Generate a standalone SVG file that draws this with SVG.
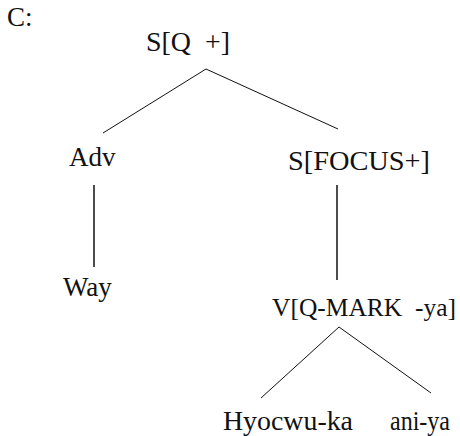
<svg xmlns="http://www.w3.org/2000/svg" width="460" height="436" viewBox="0 0 460 436">
<style>
text{font-family:"Liberation Serif","DejaVu Serif",serif;font-size:27px;fill:#111;white-space:pre}
.e line{stroke:#111;stroke-width:1}
.e line.v{stroke-width:1.5}
</style>
<rect width="460" height="436" fill="#fff"/>
<text x="7" y="26">C:</text>
<g class="e" id="connectors">
<line x1="206" y1="69" x2="103" y2="133"/>
<line x1="206" y1="69" x2="338" y2="129"/>
<line class="v" x1="94" y1="185" x2="94" y2="267"/>
<line class="v" x1="337" y1="185" x2="337" y2="280"/>
<line x1="339" y1="327" x2="261" y2="398"/>
<line x1="339" y1="327" x2="431" y2="393"/>
</g>
<g id="n-root"><text x="146" y="51" xml:space="preserve" textLength="84" lengthAdjust="spacingAndGlyphs">S[Q  +]</text></g>
<g id="n-adv"><text x="69" y="166">Adv</text></g>
<g id="n-sfocus"><text x="288" y="170" textLength="142" lengthAdjust="spacingAndGlyphs">S[FOCUS+]</text></g>
<g id="n-way"><text x="63" y="296">Way</text></g>
<g id="n-vq"><text x="272" y="316" xml:space="preserve" style="font-size:25.6px" textLength="184" lengthAdjust="spacingAndGlyphs">V[Q-MARK  -ya]</text></g>
<g id="n-hyo"><text x="223" y="430" textLength="130" lengthAdjust="spacingAndGlyphs">Hyocwu-ka</text></g>
<g id="n-ani"><text x="390" y="430" textLength="60" lengthAdjust="spacingAndGlyphs">ani-ya</text></g>
</svg>
